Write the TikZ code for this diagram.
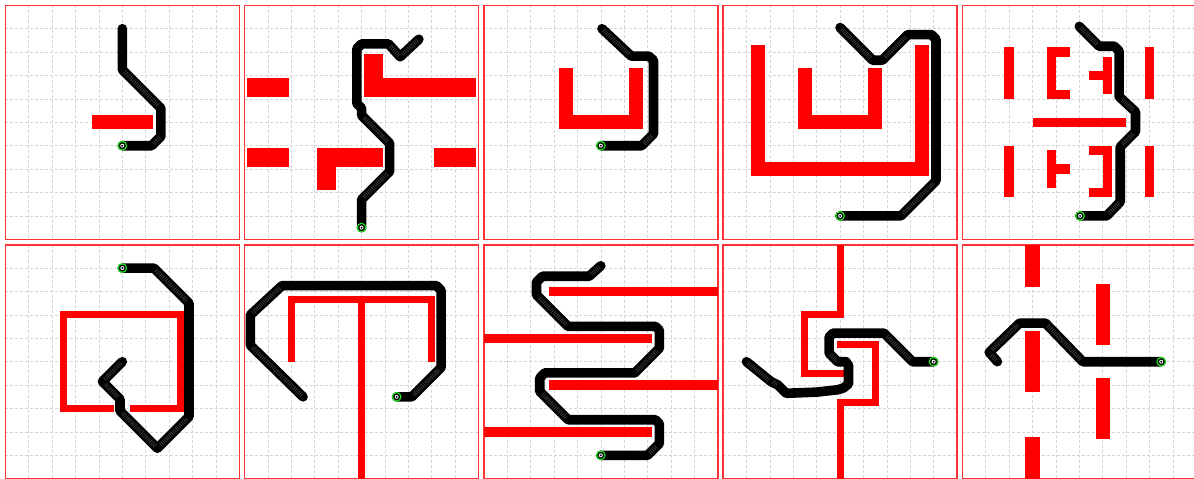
\documentclass[tikz,border=0pt]{standalone}
\definecolor{wallred}{RGB}{255,0,0}
\definecolor{gridgray}{RGB}{214,214,214}
\definecolor{mkgreen}{RGB}{30,220,30}
\tikzset{
 gridl/.style={gridgray, line width=0.6pt, dash pattern=on 3pt off 2pt},
 wall/.style={fill=wallred, draw=none},
 trail/.style={black, line width=9.6pt, line join=round, line cap=round},
 speck/.style={gray, draw opacity=0.55, line width=4.5pt, dash pattern=on 0.6pt off 1.4pt, line cap=butt},
 frame/.style={draw=red, draw opacity=0.8, line width=1.6pt},
 panel/.style={x=23.4pt, y=-23.4pt},
}
\newcommand\pbase{\foreach \k in {1,...,9}{\draw[gridl] (\k,0) -- (\k,10); \draw[gridl] (0,\k) -- (10,\k);}}
\newcommand\pframe{\draw[frame] (0,0) rectangle (10,10);}
\newcommand\pstart[1]{\fill[black] #1 circle (4.3pt); \draw[mkgreen, line width=1.2pt] #1 circle (4.3pt); \fill[white] #1 circle (2pt); \fill[black] #1 circle (1.1pt);}
\begin{document}
\begin{tikzpicture}
\useasboundingbox (0,0) rectangle (1194pt,-479pt);
\clip (0,0) rectangle (1194pt,-479pt);
\fill[white] (0,0) rectangle (1194pt,-479pt);

% ---------- Row 1 ----------
% Panel 1
\begin{scope}[shift={(5.3pt,-5.3pt)}, panel]
\pbase
\fill[wall] (3.7,4.7) rectangle (6.3,5.3);
\draw[trail] (5,1) -- (5,2.75) -- (6.65,4.4) -- (6.65,5.6) -- (6.25,6) -- (5,6);
\draw[speck] (5.1,2.85) -- (6.55,4.3) (6.6,5.65) -- (6.3,5.95);
\pstart{(5,6)}
\pframe
\end{scope}

% Panel 2
\begin{scope}[shift={(244.55pt,-5.3pt)}, panel]
\pbase
\fill[wall] (0.1,3.1) rectangle (1.9,3.9);
\fill[wall] (5.1,2.1) rectangle (5.9,3.9);
\fill[wall] (5.1,3.1) rectangle (9.9,3.9);
\fill[wall] (0.1,6.1) rectangle (1.9,6.9);
\fill[wall] (3.1,6.1) rectangle (5.9,6.9);
\fill[wall] (3.1,6.1) rectangle (3.9,7.9);
\fill[wall] (8.1,6.1) rectangle (9.9,6.9);
\draw[trail] (5,9.5) -- (5,8.3) -- (6.2,7.1) -- (6.2,5.9) -- (5.0,4.7) -- (5.0,4.4) -- (4.8,4.2) -- (4.8,1.85) -- (5.0,1.65) -- (6.15,1.65) -- (6.65,2.2) -- (7.45,1.45);
\draw[speck] (5.1,8.2) -- (6.1,7.2) (6.1,5.8) -- (5.1,4.8) (6.25,1.75) -- (6.6,2.15) (6.75,2.1) -- (7.4,1.5);
\pstart{(5,9.5)}
\pframe
\end{scope}

% Panel 3
\begin{scope}[shift={(483.8pt,-5.3pt)}, panel]
\pbase
\fill[wall] (3.2,2.7) rectangle (3.8,5.3);
\fill[wall] (3.2,4.7) rectangle (6.8,5.3);
\fill[wall] (6.2,2.7) rectangle (6.8,5.3);
\draw[trail] (5,6) -- (6.75,6) -- (7.25,5.5) -- (7.25,2.35) -- (7.05,2.17) -- (6.3,2.17) -- (5.05,1.0);
\draw[speck] (6.85,5.9) -- (7.2,5.55) (6.2,2.07) -- (5.1,1.05);
\pstart{(5,6)}
\pframe
\end{scope}

% Panel 4
\begin{scope}[shift={(723.05pt,-5.3pt)}, panel]
\pbase
\fill[wall] (1.2,1.7) rectangle (1.8,7.3);
\fill[wall] (1.2,6.7) rectangle (8.8,7.3);
\fill[wall] (8.2,1.7) rectangle (8.8,7.3);
\fill[wall] (3.2,2.7) rectangle (3.8,5.3);
\fill[wall] (3.2,4.7) rectangle (6.8,5.3);
\fill[wall] (6.2,2.7) rectangle (6.8,5.3);
\draw[trail] (5,9) -- (7.6,9) -- (9.1,7.5) -- (9.1,1.45) -- (8.9,1.25) -- (7.9,1.25) -- (6.8,2.35) -- (6.4,2.35) -- (5.0,0.95);
\draw[speck] (7.7,8.9) -- (9.0,7.6) (7.8,1.35) -- (6.9,2.25) (6.3,2.25) -- (5.05,1.0);
\pstart{(5,9)}
\pframe
\end{scope}

% Panel 5
\begin{scope}[shift={(962.3pt,-5.3pt)}, panel]
\pbase
\fill[wall] (1.8,1.8) rectangle (2.2,4.0);
\fill[wall] (1.8,6.0) rectangle (2.2,8.2);
\fill[wall] (7.8,1.8) rectangle (8.2,4.0);
\fill[wall] (7.8,6.0) rectangle (8.2,8.2);
\fill[wall] (3.6,1.8) rectangle (4.0,4.0);
\fill[wall] (3.6,1.8) rectangle (4.6,2.2);
\fill[wall] (3.6,3.6) rectangle (4.6,4.0);
\fill[wall] (6.0,2.2) rectangle (6.4,3.8);
\fill[wall] (5.4,2.8) rectangle (6.4,3.2);
\fill[wall] (3.0,4.8) rectangle (7.0,5.2);
\fill[wall] (3.6,6.2) rectangle (4.0,7.8);
\fill[wall] (3.6,6.8) rectangle (4.6,7.2);
\fill[wall] (6.0,6.0) rectangle (6.4,8.2);
\fill[wall] (5.4,6.0) rectangle (6.4,6.4);
\fill[wall] (5.4,7.8) rectangle (6.4,8.2);
\draw[trail] (5.03,9) -- (6.17,9) -- (6.75,8.4) -- (6.75,6.05) -- (7.4,5.4) -- (7.4,4.55) -- (6.7,3.9) -- (6.7,1.95) -- (6.5,1.75) -- (5.85,1.75) -- (5.0,0.9);
\draw[speck] (6.25,8.9) -- (6.7,8.45) (6.85,5.95) -- (7.3,5.5) (7.3,4.45) -- (6.8,4.0) (5.75,1.65) -- (5.05,0.95);
\pstart{(5.03,9)}
\pframe
\end{scope}

% ---------- Row 2 ----------
% Panel 6
\begin{scope}[shift={(5.3pt,-244.7pt)}, panel]
\pbase
\fill[wall] (2.35,2.85) rectangle (2.65,7.15);
\fill[wall] (2.35,2.85) rectangle (7.65,3.15);
\fill[wall] (7.35,2.85) rectangle (7.65,7.15);
\fill[wall] (2.35,6.85) rectangle (4.65,7.15);
\fill[wall] (5.35,6.85) rectangle (7.65,7.15);
\draw[trail] (5,1) -- (6.35,1) -- (7.85,2.5) -- (7.85,7.35) -- (6.5,8.7) -- (4.9,7.1) -- (4.9,6.6) -- (4.15,5.85) -- (5.0,5.0);
\draw[speck] (6.45,1.1) -- (7.75,2.4) (7.75,7.45) -- (6.6,8.6) (6.4,8.6) -- (5.0,7.2) (4.8,6.5) -- (4.25,5.95) (4.25,5.75) -- (4.95,5.05);
\pstart{(5,1)}
\pframe
\end{scope}

% Panel 7
\begin{scope}[shift={(244.55pt,-244.7pt)}, panel]
\pbase
\fill[wall] (1.85,2.2) rectangle (8.15,2.5);
\fill[wall] (1.85,2.2) rectangle (2.15,5.0);
\fill[wall] (7.85,2.2) rectangle (8.15,5.0);
\fill[wall] (4.85,2.2) rectangle (5.15,10);
\draw[trail] (6.5,6.5) -- (7.15,6.5) -- (8.4,5.25) -- (8.4,1.95) -- (8.2,1.75) -- (1.6,1.75) -- (0.25,3.0) -- (0.25,4.3) -- (2.5,6.5);
\draw[speck] (7.25,6.4) -- (8.3,5.35) (1.5,1.85) -- (0.35,2.9) (0.35,4.4) -- (2.45,6.45);
\pstart{(6.5,6.5)}
\pframe
\end{scope}

% Panel 8
\begin{scope}[shift={(483.8pt,-244.7pt)}, panel]
\pbase
\fill[wall] (2.8,1.8) rectangle (10,2.2);
\fill[wall] (0,3.8) rectangle (7.2,4.2);
\fill[wall] (2.8,5.8) rectangle (10,6.2);
\fill[wall] (0,7.8) rectangle (7.2,8.2);
\draw[trail] (5,9) -- (7.0,9) -- (7.5,8.5) -- (7.5,7.65) -- (7.33,7.48) -- (3.6,7.48) -- (2.39,6.27) -- (2.39,5.7) -- (2.6,5.48) -- (6.45,5.48) -- (7.5,4.43) -- (7.5,3.65) -- (7.33,3.49) -- (3.6,3.49) -- (2.25,2.14) -- (2.25,1.6) -- (2.5,1.35) -- (4.5,1.35) -- (5.0,0.9);
\draw[speck] (7.1,8.9) -- (7.4,8.6) (3.5,7.38) -- (2.49,6.37) (6.55,5.38) -- (7.4,4.53) (3.5,3.39) -- (2.35,2.24) (4.6,1.25) -- (4.95,0.95);
\pstart{(5,9)}
\pframe
\end{scope}

% Panel 9
\begin{scope}[shift={(723.05pt,-244.7pt)}, panel]
\pbase
\fill[wall] (4.85,0) rectangle (5.15,3.15);
\fill[wall] (3.35,2.85) rectangle (5.15,3.15);
\fill[wall] (3.35,2.85) rectangle (3.65,5.65);
\fill[wall] (3.35,5.35) rectangle (5.15,5.65);
\fill[wall] (4.85,4.1) rectangle (6.65,4.4);
\fill[wall] (6.35,4.1) rectangle (6.65,6.9);
\fill[wall] (4.85,6.6) rectangle (6.65,6.9);
\fill[wall] (4.85,6.6) rectangle (5.15,10);
\draw[trail] (9,5) -- (8.1,5) -- (6.88,3.78) -- (4.7,3.78) -- (4.53,3.95) -- (4.53,4.63) -- (4.89,5.0) -- (5.25,5.0) -- (5.36,5.15) -- (5.36,5.95) -- (5.15,6.12) -- (4.9,6.2) -- (4.0,6.3) -- (2.7,6.35) -- (2.35,6.0) -- (2.05,5.85) -- (1.0,5.0);
\draw[speck] (8.0,4.9) -- (6.98,3.88) (4.6,4.7) -- (4.85,4.95) (1.95,5.77) -- (1.05,5.05) (2.3,5.97) -- (2.1,5.87);
\pstart{(9,5)}
\pframe
\end{scope}

% Panel 10
\begin{scope}[shift={(962.3pt,-244.7pt)}, panel]
\pbase
\fill[wall] (2.7,0) rectangle (3.3,1.8);
\fill[wall] (2.7,3.7) rectangle (3.3,6.3);
\fill[wall] (2.7,8.2) rectangle (3.3,10);
\fill[wall] (5.7,1.7) rectangle (6.3,4.3);
\fill[wall] (5.7,5.7) rectangle (6.3,8.3);
\draw[trail] (8.5,5) -- (5.15,5) -- (3.55,3.35) -- (2.45,3.35) -- (1.15,4.6) -- (1.5,5.0);
\draw[speck] (5.05,4.9) -- (3.65,3.45) (2.35,3.45) -- (1.25,4.5) (1.25,4.72) -- (1.45,4.95);
\pstart{(8.5,5)}
\pframe
\end{scope}
\end{tikzpicture}
\end{document}
